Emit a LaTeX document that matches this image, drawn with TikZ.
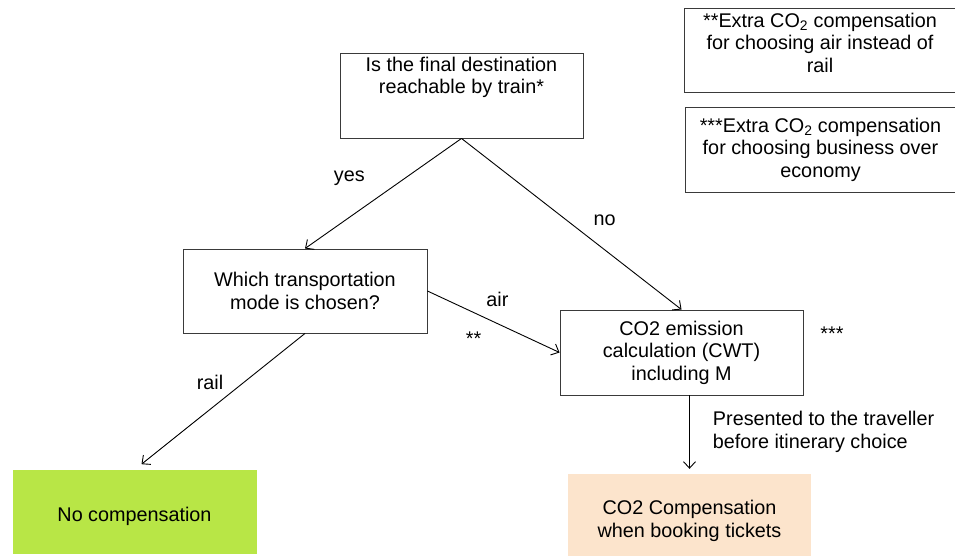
\documentclass[tikz,border=0pt]{standalone}
\usepackage{fontspec}
\setmainfont{Liberation Sans}
\usepackage{tikz}
\usetikzlibrary{positioning, arrows.meta}

\definecolor{nocompgreen}{HTML}{B8E646}
\definecolor{bookpeach}{HTML}{FCE4CC}
\definecolor{boxgray}{HTML}{3A3A3A}

\begin{document}
\begin{tikzpicture}[
    x=1pt, y=-1pt,
    every node/.style={align=center, font=\fontsize{19.8}{22.5}\selectfont, inner sep=2pt},
    process/.style={rectangle, draw=boxgray, line width=0.9pt, minimum width=243pt, minimum height=85pt},
    outcome/.style={rectangle, minimum width=244pt, minimum height=84pt},
    note/.style={rectangle, draw=boxgray, line width=0.9pt, minimum width=272pt, minimum height=85pt},
    >={Straight Barb[length=6.5pt, width=12pt]}
]
\useasboundingbox (0,0) rectangle (955,556);

\node[process, text depth=40pt] (dest) at (461.5,95.5) {Is the final destination\\reachable by train*};
\node[process, minimum width=244pt, minimum height=84pt] (mode) at (305,291) {Which transportation\\mode is chosen?};
\node[process] (calc) at (681.5,352.5) {CO2 emission\\calculation (CWT)\\including M};
\node[outcome, fill=nocompgreen, text height=24pt] (nocomp) at (134.5,512) {No compensation};
\node[outcome, fill=bookpeach, minimum width=243pt, minimum height=94pt] (booking) at (689.5,521) {CO2 Compensation\\when booking tickets};

\node[note, text depth=15pt, minimum height=84pt] (airnote) at (820,50) {**Extra CO\textsubscript{2} compensation\\for choosing air instead of\\rail};
\node[note, minimum width=271pt] (classnote) at (820.5,149.5) {***Extra CO\textsubscript{2} compensation\\for choosing business over\\economy};
\node (calcstars) at (832,334) {***};

\draw[->, line width=0.9pt] (dest.south) -- node[pos=0.36, left=38pt] (yeslbl) {yes} (mode.north);
\draw[->, line width=0.9pt] (dest.south) -- node[pos=0.48, right=24pt] (nolbl) {no} (calc.north);
\draw[->, line width=0.9pt] (mode.east) -- node[pos=0.53, above=14pt] (airlbl) {air}
    node[pos=0.35, below=17pt] (airstars) {**} (calc.west);
\draw[->, line width=0.9pt, shorten >=9pt] (mode.south) -- node[pos=0.36, left=18pt] (raillbl) {rail} (nocomp.north);
\draw[->, line width=0.9pt] (calc.south -| booking.north) -- node[midway, right=21pt, align=left] (presentlbl)
    {Presented to the traveller\\before itinerary choice} ([yshift=5pt]booking.north);

\end{tikzpicture}
\end{document}
